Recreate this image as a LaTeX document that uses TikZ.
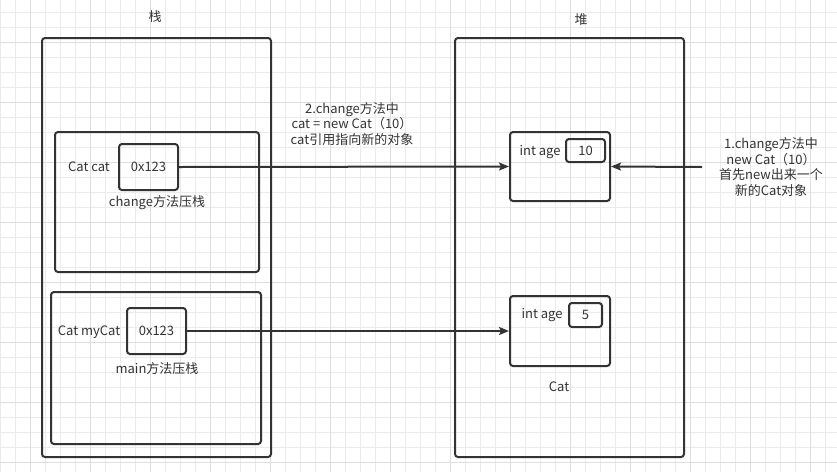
\documentclass[tikz,border=0pt]{standalone}
\usepackage{fontspec}
\setmainfont{Noto Sans CJK SC}
\usetikzlibrary{arrows.meta}
\definecolor{ink}{HTML}{333333}
\definecolor{gridminor}{HTML}{EBEBEB}
\definecolor{gridmajor}{HTML}{DEDEDE}
\tikzset{
  frame/.style={draw=ink, line width=2pt, rounded corners=3pt, inner sep=0pt},
  lbl/.style={text=ink, inner sep=0pt, font=\fontsize{13}{15.5}\selectfont},
  ref/.style={-{Stealth[length=10pt,width=8pt,inset=2pt]}, draw=ink, line width=2pt}
}

\begin{document}
\begin{tikzpicture}[x=1pt, y=-1pt]
   \useasboundingbox (0,0) rectangle (837,472);
   % background grid
   \foreach \gx in {0,15,...,837} \draw[gridminor, line width=1pt] (\gx,0) -- (\gx,472);
   \foreach \gy in {12,27,...,472} \draw[gridminor, line width=1pt] (0,\gy) -- (837,\gy);
   \foreach \gx in {30,90,...,837} \draw[gridmajor, line width=1pt] (\gx,0) -- (\gx,472);
   \foreach \gy in {42,102,...,472} \draw[gridmajor, line width=1pt] (0,\gy) -- (837,\gy);

   % stack
   \node[lbl] (stacktitle) at (155,17) {栈};
   \node[frame, minimum width=229pt, minimum height=419pt] (stack) at (156.5,247.5) {};
   \node[frame, minimum width=204pt, minimum height=140pt] (chgframe) at (157,202) {};
   \node[frame, minimum width=59pt, minimum height=46pt] (chgref) at (148.5,167) {};
   \node[lbl] (chgvar) at (89,167) {Cat cat};
   \node[lbl] at (chgref) {0x123};
   \node[lbl] (chglabel) at (157,203) {change方法压栈};
   \node[frame, minimum width=210pt, minimum height=152pt] (mainframe) at (156,368) {};
   \node[frame, minimum width=59pt, minimum height=46pt] (mainref) at (156.5,331) {};
   \node[lbl] (mainvar) at (89,332) {Cat myCat};
   \node[lbl] at (mainref) {0x123};
   \node[lbl] (mainlabel) at (157,369) {main方法压栈};

   % heap
   \node[lbl] (heaptitle) at (581,20) {堆};
   \node[frame, minimum width=229pt, minimum height=419pt] (heap) at (569.5,247.5) {};
   \node[frame, minimum width=100pt, minimum height=69pt] (catten) at (560,166.5) {};
   \node[lbl] (agetenlbl) at (540,152) {int age};
   \node[frame, minimum width=39pt, minimum height=23pt] (ageten) at (585.5,150.5) {};
   \node[lbl] at (ageten) {10};
   \node[frame, minimum width=100pt, minimum height=70pt] (catfive) at (560,331) {};
   \node[lbl] (agefivelbl) at (542,315) {int age};
   \node[frame, minimum width=33pt, minimum height=24pt] (agefive) at (585.5,315) {};
   \node[lbl] at (agefive) {5};
   \node[lbl] (catname) at (559,387) {Cat};

   % notes
   \node[lbl, align=center] (notetwo) at (352,124) {2.change方法中\\cat = new Cat（10）\\cat引用指向新的对象};
   \node[lbl, align=center] (noteone) at (771,167) {1.change方法中\\new Cat（10）\\首先new出来一个\\新的Cat对象};
   \coordinate (newstart) at (702,167);

   % references
   \draw[ref] (chgref.east) -- (catten.west);
   \draw[ref] (mainref.east) -- (catfive.west);
   \draw[ref] (newstart) -- (catten.east);
  \end{tikzpicture}
\end{document}
